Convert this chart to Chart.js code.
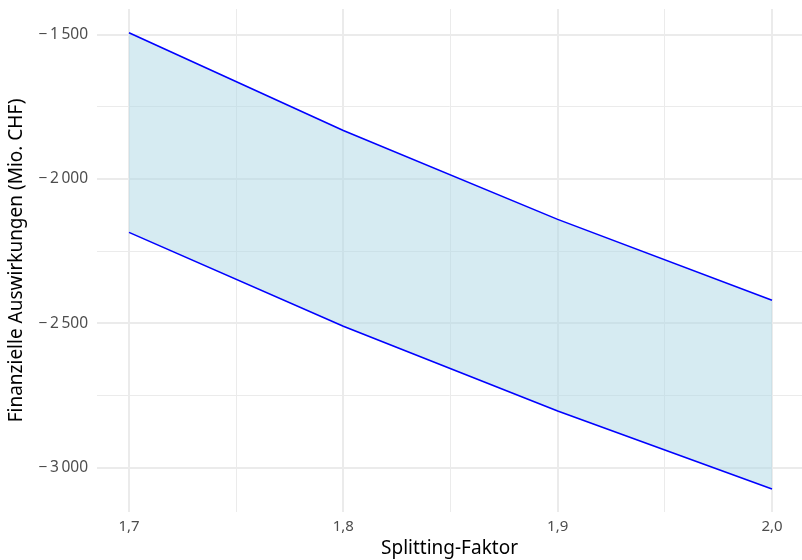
<!DOCTYPE html>
<html><head><meta charset="utf-8">
<script src="https://cdn.jsdelivr.net/npm/chart.js@4"></script>
<style>html,body{margin:0;padding:0;background:#fff}#wrap{width:802px;height:560px}</style>
</head><body><div id="wrap"><canvas id="c" width="802" height="560"></canvas></div>
<script>
const splitting = [1.7, 1.8, 1.9, 2.0];
const upper = [-1493, -1832, -2140, -2420];
const lower = [-2185, -2510, -2804, -3074];
const xMajor = [1.7, 1.8, 1.9, 2.0];
const xMinor = [1.75, 1.85, 1.95];
const xTickLabels = ['1,7', '1,8', '1,9', '2,0'];
const yMajor = [-3000, -2500, -2000, -1500];
const yMinor = [-2750, -2250, -1750];
const yTickLabels = ['\u2212\u20093\u2009000', '\u2212\u20092\u2009500', '\u2212\u20092\u2009000', '\u2212\u20091\u2009500'];

const font = "'Noto Sans', 'Open Sans', sans-serif";
function isMajor(v, arr){ return arr.some(m => Math.abs(m - v) < 1e-6); }

new Chart(document.getElementById('c'), {
  type: 'line',
  data: {
    datasets: [
      { data: splitting.map((x,i)=>({x, y: upper[i]})), borderColor: '#0000ff', borderWidth: 1.6, pointRadius: 0, fill: false, tension: 0 },
      { data: splitting.map((x,i)=>({x, y: lower[i]})), borderColor: '#0000ff', borderWidth: 1.6, pointRadius: 0, fill: '-1', backgroundColor: 'rgba(173,216,230,0.5)', tension: 0 }
    ]
  },
  options: {
    responsive: false, animation: false,
    layout: { padding: { top: 9, right: 0, left: 0, bottom: 0 } },
    plugins: { legend: { display: false }, tooltip: { enabled: false } },
    scales: {
      x: {
        type: 'linear', min: 1.68507, max: 2.014,
        afterBuildTicks: s => { s.ticks = [...xMajor, ...xMinor].sort((a,b)=>a-b).map(v=>({value:v})); },
        afterFit: s => { s.height = 48; s.paddingLeft = 0; s.paddingRight = 0; },
        border: { display: false },
        grid: {
          drawTicks: false,
          color: '#ebebeb',
          lineWidth: c => isMajor(c.tick.value, xMajor) ? 2 : 1
        },
        ticks: {
          autoSkip: false, maxRotation: 0, padding: 6,
          color: '#4d4d4d', font: { family: font, size: 15 },
          callback: v => { const i = xMajor.findIndex(m => Math.abs(m - v) < 1e-6); return i >= 0 ? xTickLabels[i] : ''; }
        },
        title: { display: true, text: 'Splitting-Faktor', color: '#000', font: { family: font, size: 19 }, padding: { top: 0, bottom: 0 } }
      },
      y: {
        type: 'linear', min: -3154, max: -1411,
        afterBuildTicks: s => { s.ticks = [...yMajor, ...yMinor].sort((a,b)=>a-b).map(v=>({value:v})); },
        afterFit: s => { s.width = 97; s.paddingTop = 0; s.paddingBottom = 0; },
        border: { display: false },
        grid: {
          drawTicks: false,
          color: '#ebebeb',
          lineWidth: c => isMajor(c.tick.value, yMajor) ? 2 : 1
        },
        ticks: {
          autoSkip: false, padding: 9,
          color: '#4d4d4d', font: { family: font, size: 15.5 },
          callback: v => { const i = yMajor.findIndex(m => Math.abs(m - v) < 1e-6); return i >= 0 ? yTickLabels[i] : ''; }
        },
        title: { display: true, text: 'Finanzielle Auswirkungen (Mio. CHF)', color: '#000', font: { family: font, size: 19 }, padding: { top: 5, bottom: 0 } }
      }
    }
  }
});
</script></body></html>
